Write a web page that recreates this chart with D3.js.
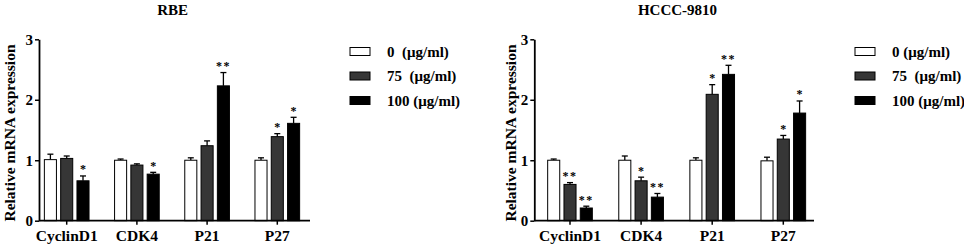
<!DOCTYPE html>
<html><head><meta charset="utf-8">
<script src="https://cdn.jsdelivr.net/npm/d3@7"></script>
<style>
body{margin:0;background:#fff;}
svg text{font-family:"Liberation Serif","Times New Roman",serif;font-weight:bold;white-space:pre;fill:#000;}
</style></head>
<body>
<svg id="c" width="964" height="247"></svg>
<script>
const categories = ["CyclinD1", "CDK4", "P21", "P27"];
const yTicks = [0, 1, 2, 3];
const seriesKeys = ["0", "75", "100"];
const legendRBE = ["0  (μg/ml)", "75  (μg/ml)", "100 (μg/ml)"];
const legendHCCC = ["0 (μg/ml)", "75  (μg/ml)", "100 (μg/ml)"];
const seriesFill = ["#ffffff", "#363636", "#000000"];

// RBE
const rbeMeans = [[1.01, 1.03, 0.66], [1.00, 0.92, 0.77], [1.00, 1.24, 2.23], [1.00, 1.39, 1.61]];
const rbeErr   = [[0.09, 0.04, 0.08], [0.02, 0.02, 0.03], [0.04, 0.08, 0.22], [0.04, 0.05, 0.10]];
const rbeStars = [["", "", "*"], ["", "", "*"], ["", "", "**"], ["", "*", "*"]];

// HCCC-9810
const hcccMeans = [[1.00, 0.60, 0.21], [1.00, 0.66, 0.39], [1.00, 2.09, 2.42], [0.99, 1.35, 1.78]];
const hcccErr   = [[0.02, 0.03, 0.03], [0.07, 0.06, 0.06], [0.04, 0.16, 0.15], [0.06, 0.06, 0.20]];
const hcccStars = [["", "**", "**"], ["", "*", "**"], ["", "*", "**"], ["", "*", "*"]];

const svg = d3.select("#c");

function panel(cfg) {
  const g = svg.append("g");
  const y = d3.scaleLinear().domain([0, 3]).range([220.7, 39.3]);
  const x = d3.scaleBand().domain(categories).range(cfg.xRange).paddingInner(0).paddingOuter(0);
  const inner = d3.scaleBand().domain(seriesKeys).range([x.bandwidth()/2 - 24.45, x.bandwidth()/2 + 24.45])
    .paddingInner(0.26).paddingOuter(0.13);

  // bars
  categories.forEach((cat, i) => {
    seriesKeys.forEach((s, j) => {
      const v = cfg.means[i][j], e = cfg.err[i][j];
      const bx = x(cat) + inner(s), bw = inner.bandwidth();
      const cx = bx + bw / 2;
      // error bar (upper only)
      g.append("line").attr("x1", cx).attr("x2", cx).attr("y1", y(v)).attr("y2", y(v + e))
        .attr("stroke", "#000").attr("stroke-width", 1.3);
      g.append("line").attr("x1", cx - 3).attr("x2", cx + 3).attr("y1", y(v + e)).attr("y2", y(v + e))
        .attr("stroke", "#000").attr("stroke-width", 1.3);
      g.append("rect").attr("x", bx).attr("y", y(v)).attr("width", bw).attr("height", y(0) - y(v))
        .attr("fill", seriesFill[j]).attr("stroke", "#000").attr("stroke-width", 1);
      const st = cfg.stars[i][j];
      if (st) {
        g.append("text").attr("x", cx).attr("y", y(v + e) - 2.5).attr("text-anchor", "middle")
          .style("font-size", "12px").style("letter-spacing", st.length > 1 ? "1.5px" : "0")
          .text(st);
      }
    });
  });

  // y axis
  const ya = g.append("g").attr("transform", `translate(${cfg.axisX},0)`)
    .call(d3.axisLeft(y).tickValues(yTicks).tickFormat(d3.format("d")).tickSize(4).tickSizeOuter(0));
  ya.select(".domain").attr("stroke-width", 1.8);
  ya.selectAll(".tick line").attr("stroke-width", 1.5);
  ya.selectAll(".tick text").style("font-size", "15px").style("font-family", '"Liberation Serif",serif')
    .style("font-weight", "bold").attr("x", -6);

  // x axis
  const xa = g.append("g").attr("transform", `translate(0,${y(0)})`)
    .call(d3.axisBottom(x).tickSize(4).tickSizeOuter(0));
  xa.select(".domain").attr("d", `M${cfg.axisX},0H${cfg.axisEnd}`).attr("stroke-width", 1.8);
  xa.selectAll(".tick line").attr("stroke-width", 1.5);
  xa.selectAll(".tick text").style("font-size", "15.5px").style("font-family", '"Liberation Serif",serif')
    .style("font-weight", "bold").attr("y", 9);

  // title
  g.append("text").attr("x", cfg.titleX).attr("y", 15).attr("text-anchor", "middle")
    .style("font-size", "15px").text(cfg.title);

  // y label
  g.append("text").attr("transform", `translate(${cfg.labelX},133) rotate(-90)`)
    .attr("text-anchor", "middle").attr("dominant-baseline", "central")
    .style("font-size", "15.5px").text("Relative mRNA expression");

  // legend
  cfg.legend.forEach((lab, j) => {
    const cy = 51.5 + j * 24.5;
    g.append("rect").attr("x", cfg.legX).attr("y", cy - 4).attr("width", 20).attr("height", 8)
      .attr("fill", seriesFill[j]).attr("stroke", "#000").attr("stroke-width", 1);
    g.append("text").attr("x", cfg.legX + 37).attr("y", cy + 5).style("font-size", "15px").text(lab);
  });
}

panel({ title: "RBE", means: rbeMeans, err: rbeErr, stars: rbeStars, legend: legendRBE,
  xRange: [31.6, 312.4], axisX: 39, axisEnd: 310, titleX: 172.7, labelX: 9.5, legX: 350 });
panel({ title: "HCCC-9810", means: hcccMeans, err: hcccErr, stars: hcccStars, legend: legendHCCC,
  xRange: [534.45, 818.85], axisX: 534.3, axisEnd: 814, titleX: 677.5, labelX: 510, legX: 855 });
</script>
</body></html>
